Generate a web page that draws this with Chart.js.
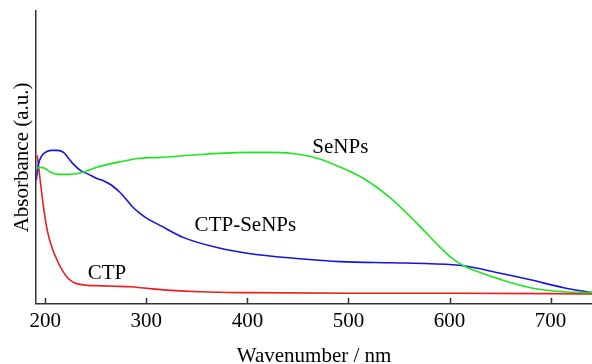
<!DOCTYPE html>
<html>
<head>
<meta charset="utf-8">
<script src="https://cdn.jsdelivr.net/npm/chart.js@4.4.1/dist/chart.umd.min.js"></script>
<style>
  html, body { margin: 0; padding: 0; background: #fff; }
  #wrap { width: 592px; height: 364px; }
</style>
</head>
<body>
<div id="wrap"><canvas id="uvChart" width="592" height="364"></canvas></div>
<script>
// wavelength (nm) + absorbance (arbitrary units, 0..1)
const ctpNm = [192, 195, 198, 202, 207, 212, 217, 222, 227, 232, 242, 251, 269, 284, 300, 324, 353, 400, 502, 601, 741];
const ctpAbs = [0.507, 0.421, 0.336, 0.250, 0.188, 0.147, 0.113, 0.089, 0.075, 0.068, 0.063, 0.062, 0.060, 0.058, 0.053, 0.046, 0.041, 0.038, 0.036, 0.036, 0.034];

const ctpSeNm = [191, 193, 196, 200, 206, 212, 218, 223, 228, 235, 243, 251, 259, 266, 274, 281, 287, 294, 301, 314, 337, 370, 403, 452, 492, 542, 581, 614, 648, 680, 713, 741];
const ctpSeAbs = [0.421, 0.473, 0.503, 0.517, 0.524, 0.524, 0.517, 0.497, 0.476, 0.455, 0.442, 0.428, 0.418, 0.404, 0.380, 0.353, 0.329, 0.308, 0.291, 0.267, 0.226, 0.192, 0.171, 0.154, 0.144, 0.140, 0.137, 0.130, 0.106, 0.082, 0.055, 0.038];

const seNm = [191, 195, 200, 205, 213, 222, 232, 242, 251, 271, 294, 314, 353, 403, 420, 443, 469, 495, 515, 542, 568, 591, 603, 614, 631, 648, 680, 713, 741];
const seAbs = [0.462, 0.466, 0.462, 0.449, 0.442, 0.442, 0.445, 0.455, 0.466, 0.483, 0.497, 0.500, 0.510, 0.517, 0.517, 0.514, 0.497, 0.462, 0.428, 0.360, 0.274, 0.192, 0.154, 0.130, 0.106, 0.086, 0.055, 0.041, 0.038];

const xTicks = [200, 300, 400, 500, 600, 700];

// curve labels: text, nm, absorbance (baseline)
const labelText = ['CTP', 'CTP-SeNPs', 'SeNPs'];
const labelNm = [261, 398, 492];
const labelAbs = [0.086, 0.250, 0.514];

const FONT = '"Liberation Serif", "Times New Roman", serif';

document.addEventListener('DOMContentLoaded', () => {
    setupChart();
});

function pts(xs, ys) {
    return xs.map((x, i) => ({ x: x, y: ys[i] }));
}

// inward tick marks + curve names
const extrasPlugin = {
    id: 'extras',
    afterDraw(chart) {
        const ctx = chart.ctx;
        const xs = chart.scales.x, ys = chart.scales.y;
        const bottom = chart.chartArea.bottom;
        ctx.save();
        ctx.strokeStyle = '#333';
        ctx.lineWidth = 1.5;
        xTicks.forEach(v => {
            const px = Math.round(xs.getPixelForValue(v)) + 0.5;
            ctx.beginPath();
            ctx.moveTo(px, bottom);
            ctx.lineTo(px, bottom - 6);
            ctx.stroke();
        });
        ctx.fillStyle = '#000';
        ctx.font = '21px ' + FONT;
        ctx.textAlign = 'center';
        ctx.textBaseline = 'alphabetic';
        labelText.forEach((t, i) => {
            ctx.fillText(t, xs.getPixelForValue(labelNm[i]), ys.getPixelForValue(labelAbs[i]));
        });
        ctx.restore();
    }
};

function setupChart() {
    const ctx = document.getElementById('uvChart').getContext('2d');
    new Chart(ctx, {
        type: 'line',
        data: {
            datasets: [
                { label: 'SeNPs', data: pts(seNm, seAbs), borderColor: 'rgb(30, 230, 30)' },
                { label: 'CTP-SeNPs', data: pts(ctpSeNm, ctpSeAbs), borderColor: 'rgb(20, 20, 220)' },
                { label: 'CTP', data: pts(ctpNm, ctpAbs), borderColor: 'rgb(235, 30, 30)' }
            ]
        },
        options: {
            responsive: false,
            animation: false,
            layout: { padding: { left: 10, top: 11, right: 0, bottom: -3 } },
            elements: {
                point: { radius: 0 },
                line: { borderWidth: 1.6, tension: 0.35, cubicInterpolationMode: 'monotone', fill: false }
            },
            plugins: { legend: { display: false }, tooltip: { enabled: false } },
            scales: {
                x: {
                    type: 'linear', min: 191, max: 741,
                    afterBuildTicks: axis => { axis.ticks = xTicks.map(v => ({ value: v })); },
                    grid: { display: false, drawTicks: false },
                    border: { display: true, color: '#333', width: 1.5 },
                    ticks: { color: '#000', padding: 5, font: { family: FONT, size: 21 } },
                    title: { display: true, text: 'Wavenumber / nm', color: '#000', padding: { top: 7, bottom: 0 }, font: { family: FONT, size: 21, lineHeight: 1.0 } }
                },
                y: {
                    min: 0, max: 1,
                    grid: { display: false, drawTicks: false },
                    border: { display: true, color: '#333', width: 1.5 },
                    ticks: { display: false },
                    title: { display: true, text: 'Absorbance (a.u.)', color: '#000', padding: { top: 0, bottom: 1 }, font: { family: FONT, size: 21 } }
                }
            }
        },
        plugins: [extrasPlugin]
    });
}
</script>
</body>
</html>
